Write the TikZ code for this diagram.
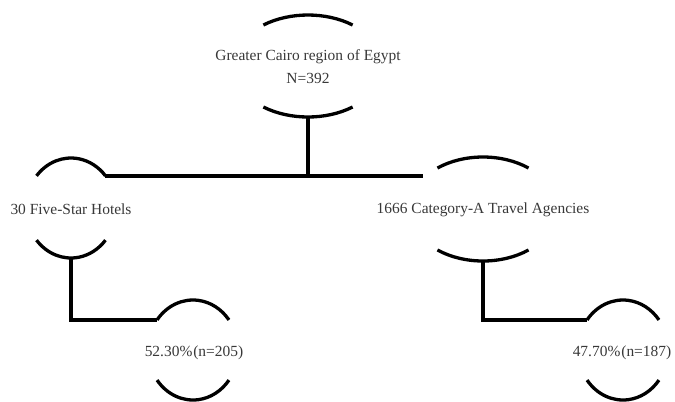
\documentclass[tikz,border=0pt]{standalone}
\usepackage{fontspec}
\setmainfont{Liberation Serif}
\usetikzlibrary{calc}
\newcommand\ovalnode[6]{%
  \coordinate (#1) at (#2,#3);
  \coordinate (#1-tl) at ($(#1)+({-#4*cos(#6)},{-#5*sin(#6)})$);
  \coordinate (#1-tr) at ($(#1)+({#4*cos(#6)},{-#5*sin(#6)})$);
  \coordinate (#1-bl) at ($(#1)+({-#4*cos(#6)},{#5*sin(#6)})$);
  \coordinate (#1-b) at ($(#1)+(0,#5)$);
  \draw[ring] (#1-tl) arc[start angle={180-#6}, end angle={#6}, x radius=#4bp, y radius=#5bp];
  \draw[ring] (#1-bl) arc[start angle={180+#6}, end angle={360-#6}, x radius=#4bp, y radius=#5bp];
}
\begin{document}
\begin{tikzpicture}[x=1bp,y=-1bp,
  ring/.style={line width=3.3bp, black},
  conn/.style={line width=3.3bp, black},
  lbl/.style={text=black!78, align=center, inner sep=0pt,
    font=\fontsize{15.5}{23}\selectfont}]
\useasboundingbox (0,0) rectangle (675,401);
\ovalnode{top}{308}{66}{75}{51}{53.5}
\ovalnode{left}{71}{208}{45}{50}{40}
\ovalnode{right}{483}{209}{74}{52}{52}
\ovalnode{bl}{193}{350}{45}{50}{37}
\ovalnode{br}{623}{350}{45}{50}{37}
\node[lbl] (topT) at (308,66.5) {Greater Cairo region of Egypt\\N=392};
\node[lbl] (leftT) at (71,209) {30 Five-Star Hotels};
\node[lbl] (rightT) at (483,210) {1666 Category-A Travel Agencies};
\node[lbl] (blT) at (194,353) {52.30\%\kern1bp(n=205)};
\node[lbl] (brT) at (622,353) {47.70\%\kern1bp(n=187)};
\coordinate (hend) at (423,0);
\draw[conn] (left-tr) -- (left-tr -| hend);
\draw[conn] (top-b) -- (top-b |- left-tr);
\draw[conn] (left-b) |- (bl-tl);
\draw[conn] (right-b) |- (br-tl);
\end{tikzpicture}
\end{document}
